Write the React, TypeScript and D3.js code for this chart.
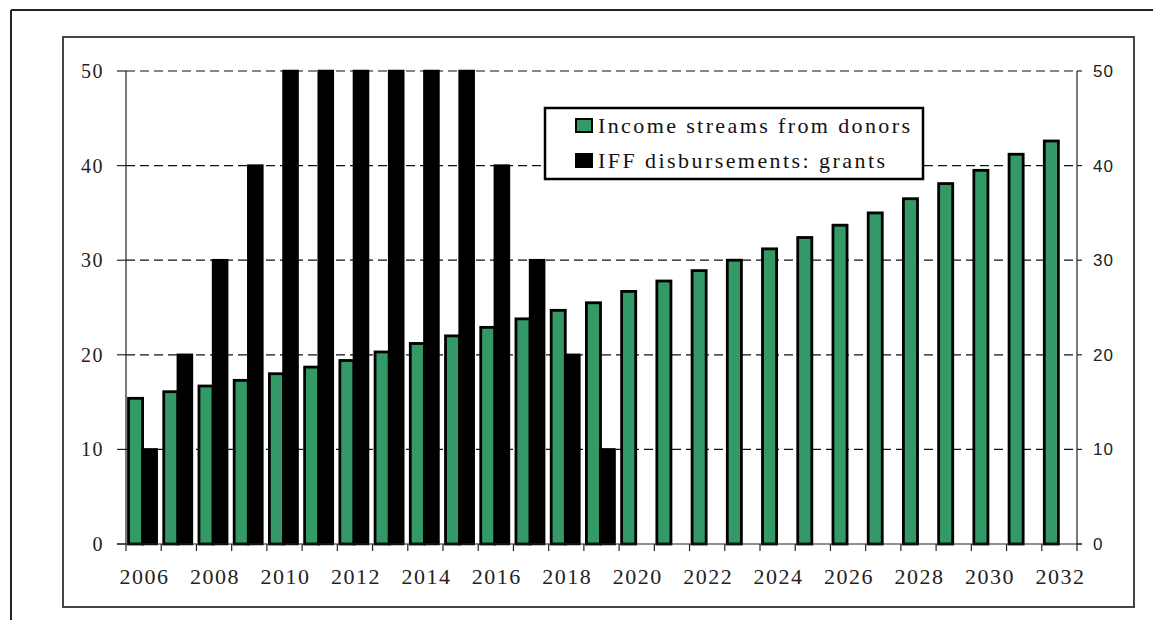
import React from "react";
import * as d3 from "d3";

const years = ["2006","2007","2008","2009","2010","2011","2012","2013","2014","2015","2016","2017","2018","2019","2020","2021","2022","2023","2024","2025","2026","2027","2028","2029","2030","2031","2032"];
const incomeStreams = [15.4,16.1,16.7,17.3,18.0,18.7,19.4,20.3,21.2,22.0,22.9,23.8,24.7,25.5,26.7,27.8,28.9,30.0,31.2,32.4,33.7,35.0,36.5,38.1,39.5,41.2,42.6];
const iffGrants = [10,20,30,40,50,50,50,50,50,50,40,30,20,10,0,0,0,0,0,0,0,0,0,0,0,0,0];
const yTicks = [0,10,20,30,40,50];
const xLabels = ["2006","2008","2010","2012","2014","2016","2018","2020","2022","2024","2026","2028","2030","2032"];
const legendItems = ["Income streams from donors", "IFF disbursements: grants"];

const GREEN = "#339966";

export default function App() {
  const left = 126, right = 1077, top = 71, bottom = 544;
  const x = d3.scaleBand<string>().domain(years).range([left, right]).padding(0);
  const y = d3.scaleLinear().domain([0, 50]).range([bottom, top]);
  const bw = x.bandwidth();
  const barW = bw * 0.4;
  const serif = { fontFamily: '"Liberation Serif", "Times New Roman", Times, "DejaVu Serif", serif' };
  const sans = { fontFamily: '"Liberation Sans", Arial, sans-serif' };

  return (
    <svg width={1153} height={620} style={{ position: "absolute", left: 0, top: 0, background: "#fff" }}>
      <line x1={11} y1={10} x2={1153} y2={10} stroke="#222" strokeWidth={2} />
      <line x1={11} y1={10} x2={11} y2={620} stroke="#222" strokeWidth={2} />
      <rect x={63} y={37} width={1134 - 63} height={607 - 37} fill="#fff" stroke="#444" strokeWidth={2} />

      {yTicks.filter(t => t > 0).map(t => (
        <line key={"g" + t} x1={left} x2={right} y1={y(t)} y2={y(t)} stroke="#111" strokeWidth={1.2} strokeDasharray="9,5" />
      ))}

      {years.map((yr, i) => {
        const gx = (x(yr) as number) + bw / 2 - barW - 1;
        return (
          <g key={yr}>
            <rect x={gx} y={y(incomeStreams[i])} width={barW} height={y(0) - y(incomeStreams[i])} fill={GREEN} stroke="#000" strokeWidth={2.8} />
            {iffGrants[i] > 0 && (
              <rect x={gx + barW} y={y(iffGrants[i])} width={barW} height={y(0) - y(iffGrants[i])} fill="#000" stroke="#000" strokeWidth={2.5} />
            )}
          </g>
        );
      })}

      <line x1={left} x2={left} y1={top} y2={bottom} stroke="#222" strokeWidth={1.2} />
      <line x1={right} x2={right} y1={top} y2={bottom} stroke="#222" strokeWidth={1.2} />
      <line x1={117} x2={1082} y1={bottom} y2={bottom} stroke="#222" strokeWidth={1.2} />
      {yTicks.map(t => (
        <g key={"yt" + t}>
          <line x1={117} x2={left} y1={y(t)} y2={y(t)} stroke="#222" strokeWidth={1.2} />
          <line x1={right} x2={1082} y1={y(t)} y2={y(t)} stroke="#222" strokeWidth={1.2} />
          <text x={104} y={y(t)} dy="0.35em" textAnchor="end" style={serif} fontSize={20} letterSpacing={1.5} fill="#222">{t}</text>
          <text x={1093} y={y(t)} dy="0.35em" textAnchor="start" style={sans} fontSize={17} letterSpacing={1} fill="#222">{t}</text>
        </g>
      ))}
      {years.concat(["end"]).map((yr, i) => {
        const xx = left + i * bw;
        return <line key={"xt" + i} x1={xx} x2={xx} y1={bottom} y2={bottom + 7} stroke="#222" strokeWidth={1.2} />;
      })}
      {xLabels.map(l => (
        <text key={"xl" + l} x={(x(l) as number) + bw / 2 + 1} y={584} textAnchor="middle" style={serif} fontSize={22} letterSpacing={1.5} fill="#222">{l}</text>
      ))}

      <rect x={545} y={108} width={378} height={71} fill="#fff" stroke="#000" strokeWidth={2.5} />
      {legendItems.map((name, i) => (
        <g key={name}>
          <rect x={576} y={119 + i * 35} width={16} height={13} fill={i === 0 ? GREEN : "#000"} stroke="#000" strokeWidth={2} />
          <text x={598} y={133 + i * 35} style={serif} fontSize={22} fill="#111" textLength={i === 0 ? 312 : 287} lengthAdjust="spacing">{name}</text>
        </g>
      ))}
    </svg>
  );
}
